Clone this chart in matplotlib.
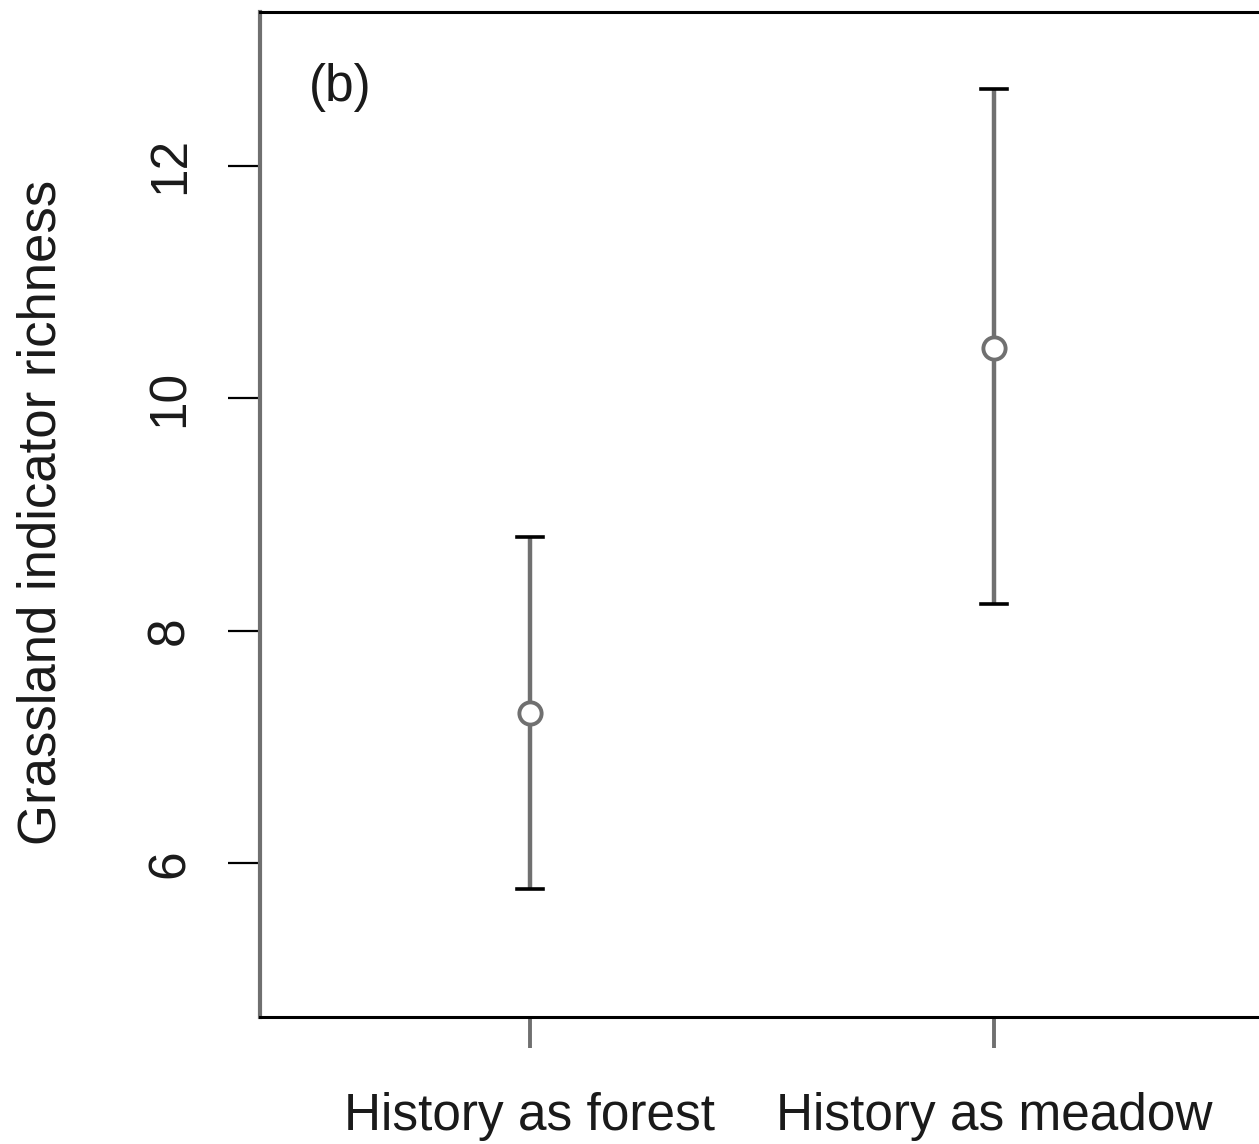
import matplotlib.pyplot as plt

plt.rcParams['font.family'] = ['Liberation Sans', 'DejaVu Sans']

# data
groups = ['History as forest', 'History as meadow']
positions = [1, 2]
means = [7.29, 10.43]
lower = [5.78, 8.23]
upper = [8.81, 12.66]

gray = '#707070'
txt = '#1a1a1a'

fig = plt.figure(figsize=(12.59, 11.44), dpi=100)
ax = fig.add_axes([260 / 1259, 1 - 1017 / 1144, (1264 - 260) / 1259, (1017 - 12) / 1144])

for x, m, lo, hi in zip(positions, means, lower, upper):
    ax.plot([x, x], [lo, hi], color=gray, lw=3.2, solid_capstyle='butt', zorder=2)
    ax.plot([x - 0.028, x + 0.028], [lo, lo], color='black', lw=2.6, zorder=3)
    ax.plot([x - 0.028, x + 0.028], [hi, hi], color='black', lw=2.6, zorder=3)

ax.plot(positions, means, 'o', ms=16, mfc='white', mec=gray, mew=2.8, zorder=4, ls='none')

ax.set_xlim(0.42, 2.58)
ax.set_ylim(4.68, 13.32)

ax.set_yticks([6, 8, 10, 12])
ax.set_yticklabels(['6', '8', '10', '12'], rotation=90, va='center', fontsize=37, color=txt)
ax.set_xticks(positions)
ax.set_xticklabels(groups, fontsize=37, color=txt)

ax.tick_params(axis='y', length=23, width=1.6, color='black', pad=24)
ax.tick_params(axis='x', length=22, width=2.8, color=gray, pad=32)

ax.spines['left'].set_color(gray)
ax.spines['left'].set_linewidth(3)
ax.spines['bottom'].set_color('black')
ax.spines['bottom'].set_linewidth(2.2)
ax.spines['top'].set_color('black')
ax.spines['top'].set_linewidth(2.2)
ax.spines['right'].set_visible(False)

ax.text(340, 1144 - 88, '(b)', transform=None, fontsize=37, ha='center', va='center', color=txt)
fig.text(42 / 1259, 1 - 512 / 1144, 'Grassland indicator richness', rotation=90,
         ha='center', va='center', fontsize=38, color=txt)

plt.savefig('out.png', dpi=100)
